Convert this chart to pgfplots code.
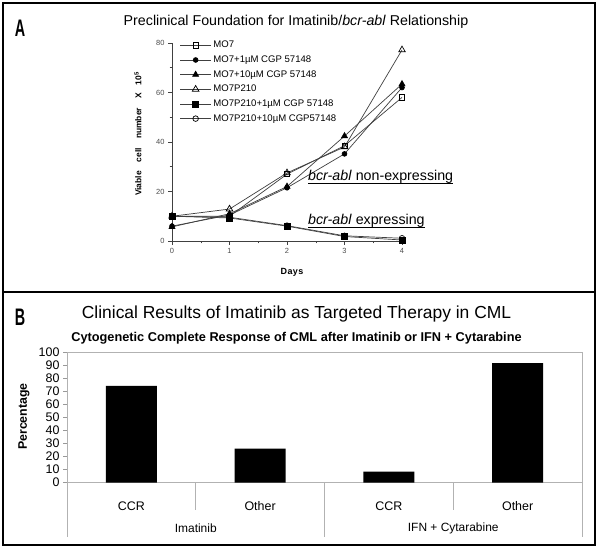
\documentclass[border=0pt]{standalone}
\usepackage{fontspec}
\setmainfont{Liberation Sans}
\usepackage{pgfplots}
\pgfplotsset{compat=1.18}
\begin{document}
\begin{tikzpicture}[x=1bp,y=1bp]
\path[use as bounding box] (0,0) rectangle (600,550);
\fill[white] (0,0) rectangle (600,550);
\draw[line width=1.6bp] (3,5) rectangle (595,547);
\draw[line width=1.6bp] (3,258) -- (595,258);
% panel letters
\node[font=\bfseries\fontsize{24}{24}\selectfont, xscale=0.6] at (20,522) {A};
\node[font=\bfseries\fontsize{24}{24}\selectfont, xscale=0.6] at (20,232.5) {B};
% titles
\node[font=\fontsize{14.3}{16}\selectfont] at (296,528) {Preclinical Foundation for Imatinib/\textit{bcr-abl} Relationship};
\node[font=\fontsize{17.5}{19}\selectfont] at (296.5,236.5) {Clinical Results of Imatinib as Targeted Therapy in CML};
\node[font=\bfseries\fontsize{12.8}{14}\selectfont] at (296.5,211.5) {Cytogenetic Complete Response of CML after Imatinib or IFN + Cytarabine};

% ---------------- Panel A ----------------
\begin{axis}[
  at={(172bp,309bp)}, anchor=south west, scale only axis,
  width=230bp, height=198bp,
  xmin=0, xmax=4, ymin=0, ymax=80,
  axis x line=bottom, axis y line=left,
  axis line style={-, black!75, line width=0.6bp},
  xtick={0,1,2,3,4}, minor xtick={0.5,1.5,2.5,3.5},
  ytick={0,20,40,60,80}, minor ytick={10,30,50,70},
  tick align=outside, major tick length=4bp, minor tick length=2.5bp,
  tick style={black!75, line width=0.5bp},
  ticklabel style={font=\fontsize{7.5}{8}\selectfont, text=black!70},
  /pgf/number format/assume math mode=true,
  clip=false,
  legend cell align=left,
  legend style={draw=none, fill=none, at={(axis description cs:0.02,1.03)}, anchor=north west,
    font=\fontsize{9.6}{11}\selectfont, row sep=2.5bp},
  legend image code/.code={\draw[mark repeat=2,mark phase=2] plot coordinates {(0bp,0bp) (15.5bp,0bp) (31bp,0bp)};},
  every axis plot/.append style={line width=0.7bp, black!75},
]
\addplot[mark=square, mark size=2.6bp, mark options={fill=white, draw=black, solid}] coordinates {(0,10) (1,10) (2,27) (3,38.5) (4,58)};
\addlegendentry{MO7}
\addplot[mark=*, mark size=2.4bp, mark options={fill=black, draw=black}] coordinates {(0,6) (1,10.5) (2,21.5) (3,35.2) (4,62)};
\addlegendentry{MO7+1µM CGP 57148}
\addplot[mark=triangle*, mark size=3.4bp, mark options={fill=black, draw=black}] coordinates {(0,5.7) (1,11) (2,22) (3,42.4) (4,63.4)};
\addlegendentry{MO7+10µM CGP 57148}
\addplot[mark=triangle, mark size=3.8bp, mark options={fill=white, draw=black}] coordinates {(0,10) (1,12.9) (2,27.5) (3,38) (4,77.2)};
\addlegendentry{MO7P210}
\addplot[mark=square*, mark size=3bp, mark options={fill=black, draw=black}] coordinates {(0,10) (1,9.3) (2,6) (3,1.8) (4,0.4)};
\addlegendentry{MO7P210+1µM CGP 57148}
\addplot[mark=o, mark size=2.8bp, mark options={fill=white, draw=black}] coordinates {(0,10) (1,9.6) (2,6.2) (3,2.1) (4,1.1)};
\addlegendentry{MO7P210+10µM CGP57148}
\end{axis}
\node[font=\bfseries\fontsize{9}{10}\selectfont] at (292,278) {D\hspace{0.5bp}a\hspace{0.5bp}y\hspace{0.5bp}s};
\node[rotate=90, font=\bfseries\fontsize{8.5}{9}\selectfont] at (138,416) {Viable\hspace{9bp}cell\hspace{9bp}number\hspace{9bp}X\hspace{8bp}10$^{\mathbf{5}}$};
\node[anchor=base west, inner sep=0pt, font=\fontsize{14.3}{16}\selectfont] (u1) at (308,369) {\textit{bcr-abl} non-expressing};
\draw[line width=0.8bp] ([yshift=-2.3bp]u1.base west) -- ([yshift=-2.3bp]u1.base east);
\node[anchor=base west, inner sep=0pt, font=\fontsize{14.3}{16}\selectfont] (u2) at (308,325) {\textit{bcr-abl} expressing};
\draw[line width=0.8bp] ([yshift=-2.3bp]u2.base west) -- ([yshift=-2.3bp]u2.base east);

% ---------------- Panel B ----------------
\begin{axis}[
  at={(67bp,67.3bp)}, anchor=south west, scale only axis,
  width=515bp, height=130.7bp,
  xmin=-0.5, xmax=3.5, ymin=0, ymax=100,
  ybar, bar width=51bp,
  axis line style={black!30, line width=0.8bp},
  xtick={0,1,2,3}, xticklabels={CCR,Other,CCR,Other}, xtick style={draw=none},
  xticklabel style={anchor=center, yshift=-19.3bp},
  ytick={0,10,...,100}, ytick pos=left, tick align=outside, major tick length=4bp,
  ytick style={black!40, line width=0.8bp},
  ticklabel style={font=\fontsize{12.5}{12.5}\selectfont},
  /pgf/number format/assume math mode=true,
  clip=false,
]
\addplot[fill=black, draw=none] coordinates {(0,74) (1,26) (2,8.5) (3,91.5)};
\draw[black!30, line width=0.8bp] (axis cs:-0.5,0) -- ++(0bp,-54bp);
\draw[black!30, line width=0.8bp] (axis cs:1.5,0) -- ++(0bp,-54bp);
\draw[black!30, line width=0.8bp] (axis cs:3.5,0) -- ++(0bp,-54bp);
\draw[black!30, line width=0.8bp] (axis cs:0.5,0) -- ++(0bp,-27bp);
\draw[black!30, line width=0.8bp] (axis cs:2.5,0) -- ++(0bp,-27bp);
\node[font=\fontsize{12}{12}\selectfont] at (axis cs:0.5,0) [yshift=-45.3bp] {Imatinib};
\node[font=\fontsize{12}{12}\selectfont] at (axis cs:2.5,0) [yshift=-45.3bp] {IFN + Cytarabine};
\end{axis}
\node[rotate=90, font=\bfseries\fontsize{12.4}{14}\selectfont] at (24,133.5) {Percentage};
\end{tikzpicture}
\end{document}
